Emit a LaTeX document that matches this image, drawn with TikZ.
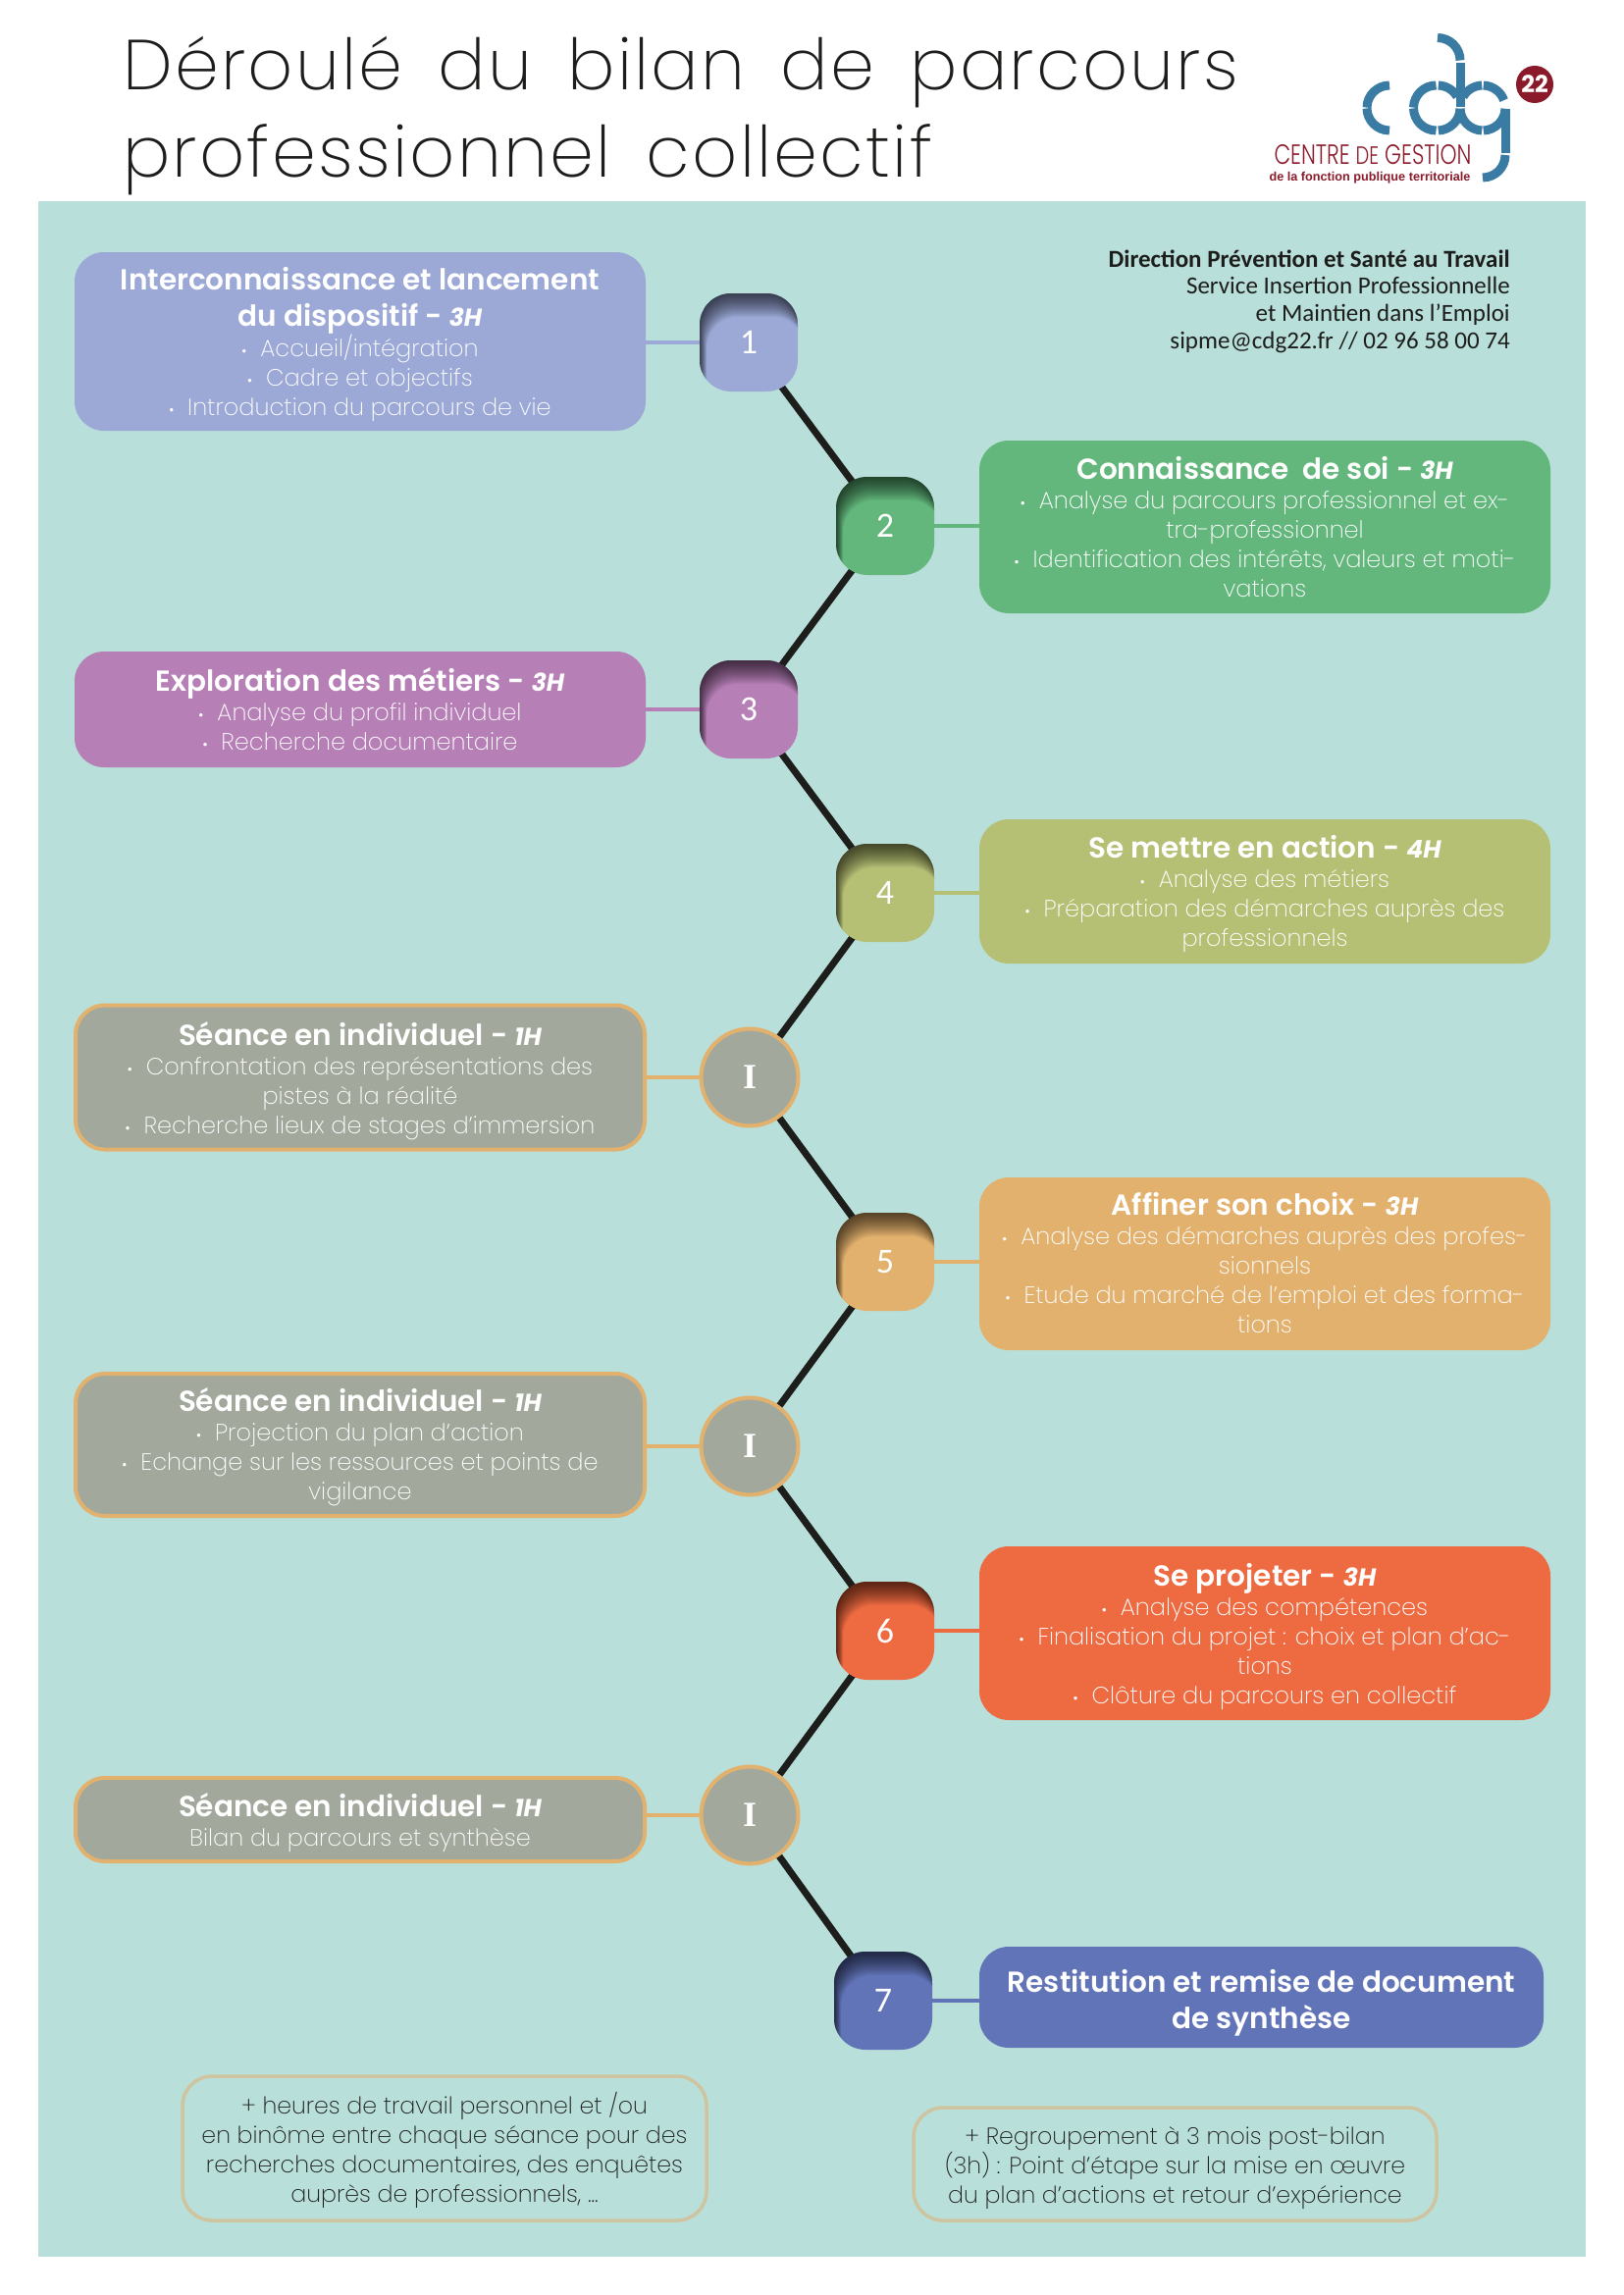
\documentclass[tikz,border=0pt]{standalone}
\usepackage{fontspec}
\newfontfamily\tfont{Poppins SemiBold}
\newfontfamily\bfontx{Poppins ExtraLight}
\newfontfamily\headf{Poppins ExtraLight}[LetterSpace=3,WordSpace=1.62]
\newfontfamily\logof{Poppins Light}
\newfontfamily\hfontx{Poppins}[BoldItalicFont=* Bold Italic]
\newfontfamily\carl{Carlito}
\newfontfamily\serifx{Liberation Serif}
\newfontfamily\libsans{Liberation Sans}
\usetikzlibrary{calc}
\definecolor{panelc}{HTML}{B8DFD9}
\definecolor{inkc}{HTML}{1D1D1B}
\definecolor{cA}{HTML}{9CA9D7}
\definecolor{cB}{HTML}{63B77C}
\definecolor{cC}{HTML}{B67FB6}
\definecolor{cD}{HTML}{B6C075}
\definecolor{cE}{HTML}{E2B16E}
\definecolor{cF}{HTML}{EE6B42}
\definecolor{cG}{HTML}{6274B8}
\definecolor{grayc}{HTML}{A2A89C}
\definecolor{notec}{HTML}{CFC4A0}
\definecolor{logob}{HTML}{3A7BA3}
\definecolor{logor}{HTML}{8A1A2A}
\pgfdeclarelayer{conn}
\pgfsetlayers{conn,main}
\newcommand{\hh}[1]{{\hfontx\fontsize{25}{30}\selectfont\bfseries\itshape #1}}
\newcommand{\ti}{\tfont\fontsize{29.5}{30}\selectfont}
\newcommand{\bu}{{\fontsize{16}{30}\selectfont •}\hspace{14pt}}
% \bx{name}{style}{x}{y}{w}{h}{dy}{text}: a box and its text, the text dy lower than the box centre
\newcommand{\bx}[8]{%
  \node[#2,minimum width=#5pt,minimum height=#6pt] (#1) at (#3,#4) {};
  \node[boxtext,#2text] (#1t) at ([yshift=-#7pt]#1.center) {#8};}
\tikzset{
 infobox/.style={rectangle,rounded corners=30pt,inner sep=0pt},
 Acbox/.style={infobox,fill=cA},
 Bcbox/.style={infobox,fill=cB},
 Ccbox/.style={infobox,fill=cC},
 Dcbox/.style={infobox,fill=cD},
 Ecbox/.style={infobox,fill=cE},
 Fcbox/.style={infobox,fill=cF},
 Gcbox/.style={infobox,fill=cG},
 grbox/.style={infobox,fill=grayc,draw=cE,line width=4pt},
 notebox/.style={infobox,draw=notec,line width=3.5pt},
 boxtext/.style={inner sep=0pt,align=center,text=white,font=\bfontx\fontsize{24}{30}\selectfont},
 Acboxtext/.style={},Bcboxtext/.style={},Ccboxtext/.style={},Dcboxtext/.style={},
 Ecboxtext/.style={},Fcboxtext/.style={},Gcboxtext/.style={},grboxtext/.style={},
 noteboxtext/.style={text=inkc,font=\bfontx\fontsize{23.7}{30}\selectfont},
 numnode/.style={rectangle,rounded corners=32pt,minimum width=100pt,minimum height=100pt,inner sep=0pt,
   fill=#1,text=white,font=\carl\fontsize{36}{36}\selectfont,
   path picture={\foreach \k in {1,...,24}{
     \fill[black,opacity=.035,even odd rule,sharp corners]
      ([xshift=-90pt,yshift=90pt]path picture bounding box.center) rectangle ([xshift=90pt,yshift=-90pt]path picture bounding box.center)
      [rounded corners=32pt]
      ([xshift={-50pt+0.3pt*\k},yshift={50pt-1pt*\k}]path picture bounding box.center) rectangle
      ([xshift={50pt+0.3pt*\k},yshift={-50pt-1pt*\k}]path picture bounding box.center);}}},
 inode/.style={circle,minimum size=99pt,inner sep=0pt,fill=grayc,draw=cE,line width=4pt,text=white,
   font=\serifx\bfseries\fontsize{36}{36}\selectfont},
 spine/.style={draw=inkc,line width=7pt},
 stub/.style={draw=#1,line width=3.5pt},
 titletext/.style={anchor=base west,inner sep=0pt,text=inkc,font=\headf\fontsize{72}{86}\selectfont},
 contact/.style={anchor=base east,inner sep=0pt,text=inkc,font=\carl\fontsize{25}{27}\selectfont},
 logostroke/.style={draw=logob,line width=9pt}
}
\begin{document}
\begin{tikzpicture}[x=1pt,y=-1pt]
\useasboundingbox (0,0) rectangle (1654,2339);
\begin{pgfonlayer}{conn}
\fill[panelc] (39,205) rectangle (1616,2300);
\end{pgfonlayer}

% title
\node[titletext] (t1) at (125,92) {Déroulé du bilan de parcours};
\node[titletext] (t2) at (125,180) {professionnel collectif};

% contact
\node[contact] (k1) at (1539,272) {\bfseries Direction Prévention et Santé au Travail};
\node[contact] (k2) at (1539,299) {Service Insertion Professionnelle};
\node[contact] (k3) at (1539,327) {et Maintien dans l’Emploi};
\node[contact] (k4) at (1539,355) {sipme@cdg22.fr // 02 96 58 00 74};

% logo
\draw[logostroke] (1416,110) ++(90:23pt) arc[start angle=90,end angle=179,radius=23pt];
\draw[logostroke] (1416,110) ++(181:23pt) arc[start angle=181,end angle=270,radius=23pt];
\draw[logostroke] (1463.5,110) ++(90:23pt) arc[start angle=90,end angle=179,radius=23pt];
\draw[logostroke] (1463.5,110) ++(181:23pt) arc[start angle=181,end angle=270,radius=23pt];
\draw[logostroke] (1465,110) ++(88:23pt) arc[start angle=88,end angle=30,radius=23pt];
\draw[logostroke] (1465,110) ++(-88:23pt) arc[start angle=-88,end angle=-2,radius=23pt];
\draw[logostroke] (1488,109) -- (1488,64);
\draw[logostroke] (1465,61.5) ++(90:23pt) arc[start angle=90,end angle=0,radius=23pt];
\draw[logostroke] (1511,110) ++(92:23pt) arc[start angle=92,end angle=150,radius=23pt];
\draw[logostroke] (1511,110) ++(182:23pt) arc[start angle=182,end angle=268,radius=23pt];
\draw[logostroke] (1511,110) ++(88:23pt) arc[start angle=88,end angle=20,radius=23pt];
\draw[logostroke] (1511,110) ++(-88:23pt) arc[start angle=-88,end angle=-2,radius=23pt];
\draw[logostroke] (1534,111) -- (1534,156);
\draw[logostroke] (1511,158) ++(0:23pt) arc[start angle=0,end angle=-90,radius=23pt];
\node[circle,fill=logor,minimum size=38pt,inner sep=0pt,text=white,font=\hfontx\bfseries\fontsize{24}{24}\selectfont] (lg22) at (1564,86) {22};
\node[inner sep=0pt,text=logor] (lg1) at (1399,158) {\resizebox{201pt}{20pt}{\logof CENTRE {\small DE} GESTION}};
\node[inner sep=0pt,text=logor] (lg2) at (1396,181) {\resizebox{205pt}{!}{\libsans\bfseries de la fonction publique territoriale}};

% boxes
\bx{b1}{Acbox}{367}{348}{582}{182}{3}{{\ti Interconnaissance et lancement}\\[7pt]{\ti du dispositif - \hh{3H}}\\\bu Accueil/intégration\\\bu Cadre et objectifs\\\bu Introduction du parcours de vie}
\bx{b2}{Bcbox}{1289}{537}{582}{176}{.5}{{\ti Connaissance\ \ de soi - \hh{3H}}\\\bu Analyse du parcours professionnel et ex-\\tra-professionnel\\\bu Identification des intérêts, valeurs et moti-\\vations}
\bx{b3}{Ccbox}{367}{723}{582}{118}{-.5}{{\ti Exploration des métiers - \hh{3H}}\\\bu Analyse du profil individuel\\\bu Recherche documentaire}
\bx{b4}{Dcbox}{1289}{908.5}{582}{147}{2.5}{{\ti Se mettre en action - \hh{4H}}\\\bu Analyse des métiers\\\bu Préparation des démarches auprès des\\professionnels}
\bx{b5}{grbox}{367}{1098}{580}{147}{4}{{\ti Séance en individuel - \hh{1H}}\\\bu Confrontation des représentations des\\pistes à la réalité\\\bu Recherche lieux de stages d’immersion}
\bx{b6}{Ecbox}{1289}{1288}{582}{176}{-1}{{\ti Affiner son choix - \hh{3H}}\\\bu Analyse des démarches auprès des profes-\\sionnels\\\bu Etude du marché de l’emploi et des forma-\\tions}
\bx{b7}{grbox}{367}{1472.5}{580}{145}{2.5}{{\ti Séance en individuel - \hh{1H}}\\\bu Projection du plan d’action\\\bu Echange sur les ressources et points de\\vigilance}
\bx{b8}{Fcbox}{1289}{1664.5}{582}{177}{3.5}{{\ti Se projeter - \hh{3H}}\\\bu Analyse des compétences\\\bu Finalisation du projet : choix et plan d’ac-\\tions\\\bu Clôture du parcours en collectif}
\bx{b9}{grbox}{367}{1854.5}{580}{85}{3.5}{{\ti Séance en individuel - \hh{1H}}\\Bilan du parcours et synthèse}
\bx{b10}{Gcbox}{1285.5}{2035.5}{575}{103}{6}{{\ti Restitution et remise de document}\\[7pt]{\ti de synthèse}}

% notes
\bx{nA}{notebox}{453}{2189.5}{534}{147}{1.5}{+ heures de travail personnel et /ou\\en binôme entre chaque séance pour des\\recherches documentaires, des enquêtes\\auprès de professionnels, ...}
\bx{nB}{notebox}{1197.5}{2205.5}{533}{115}{4}{+ Regroupement à 3 mois post-bilan\\(3h) : Point d’étape sur la mise en œuvre\\du plan d’actions et retour d’expérience}

% spine nodes
\node[numnode=cA] (n1) at (763,349) {1};
\node[numnode=cB] (n2) at (902,536) {2};
\node[numnode=cC] (n3) at (763,723) {3};
\node[numnode=cD] (n4) at (902,910) {4};
\node[inode] (n5) at (764,1098) {I};
\node[numnode=cE] (n6) at (902,1286) {5};
\node[inode] (n7) at (764,1474) {I};
\node[numnode=cF] (n8) at (902,1662) {6};
\node[inode] (n9) at (764,1850) {I};
\node[numnode=cG] (n10) at (900,2039) {7};

\begin{pgfonlayer}{conn}
\foreach \a/\b in {n1/n2,n2/n3,n3/n4,n4/n5,n5/n6,n6/n7,n7/n8,n8/n9,n9/n10}
  \draw[spine] (\a.center) -- (\b.center);
\foreach \n/\bx/\c in {n1/b1/cA,n3/b3/cC,n5/b5/cE,n7/b7/cE,n9/b9/cE}
  \draw[stub=\c] (\n.center -| \bx.east) -- (\n.center);
\foreach \n/\bx/\c in {n2/b2/cB,n4/b4/cD,n6/b6/cE,n8/b8/cF,n10/b10/cG}
  \draw[stub=\c] (\n.center -| \bx.west) -- (\n.center);
\end{pgfonlayer}
\end{tikzpicture}
\end{document}
